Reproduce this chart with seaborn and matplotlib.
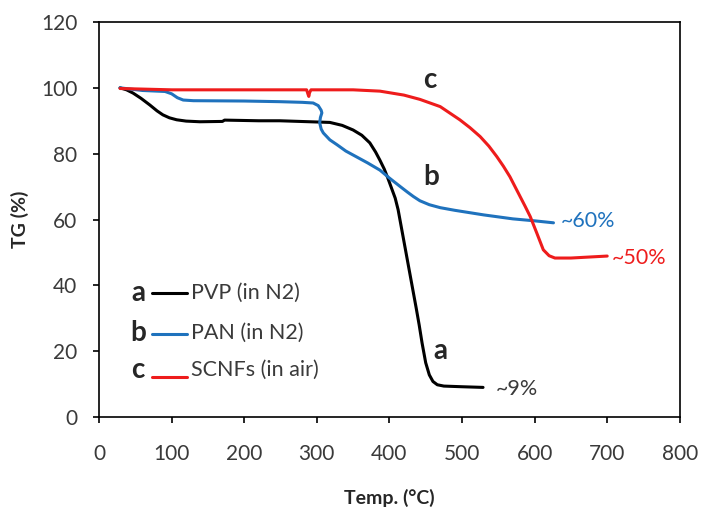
import numpy as np
import pandas as pd
import matplotlib
matplotlib.use("Agg")
import matplotlib.pyplot as plt
import seaborn as sns

# TG curves (temperature in C, TG in %)
pvp_t = [29, 38, 47, 58, 70, 80, 88, 97, 107, 120, 139, 170, 173, 220, 249, 318, 335, 350, 362, 373,
         381, 387, 393, 398, 403, 408, 412, 417, 422, 427, 432, 437, 441, 445, 450, 455, 460, 466, 475, 500, 529]
pvp_tg = [100, 99.4, 98.4, 96.8, 94.8, 93, 91.8, 90.9, 90.3, 89.9, 89.7, 89.8, 90.2, 90, 90, 89.5, 88.6, 87.2, 85.6, 83.3,
          80.5, 78, 75.3, 72.5, 69.5, 66.5, 63, 57, 51, 45, 39, 33, 28, 22.5, 16.5, 12.8, 10.8, 9.8, 9.4, 9.2, 9]

pan_t = [29, 60, 91, 100, 108, 116, 130, 200, 249, 280, 295, 302, 306, 307, 305, 304, 306, 309, 318, 328,
         340, 355, 370, 387, 400, 415, 425, 433, 442, 455, 470, 490, 530, 570, 600, 626]
pan_tg = [100, 99.2, 98.9, 98.2, 97, 96.3, 96.1, 96, 95.8, 95.6, 95.4, 94.6, 93.2, 92.4, 91, 89.4, 87.5, 86.3, 84.2, 82.7,
          80.8, 79, 77.2, 75, 72.6, 70, 68.3, 67, 65.7, 64.5, 63.6, 62.8, 61.4, 60.2, 59.6, 59]

scnf_t = [29, 100, 200, 286, 288, 289, 290, 292, 350, 387, 420, 442, 470, 497, 511, 525, 537, 548, 557, 566,
          573, 580, 587, 594, 603, 612, 620, 628, 650, 675, 700]
scnf_tg = [99.8, 99.4, 99.4, 99.4, 98, 97.4, 98.5, 99.4, 99.4, 99, 97.8, 96.5, 94.3, 90.3, 87.9, 85.2, 82.3, 79.1, 76.2, 73,
           70, 67, 64, 60.9, 55.9, 50.8, 49, 48.3, 48.3, 48.6, 48.9]

series_names = ["PVP (in N2)", "PAN (in N2)", "SCNFs (in air)"]
series_letters = ["a", "b", "c"]
colors = ["#000000", "#1f72bd", "#ee1c1c"]

sns.set_style("ticks")
plt.rcParams['font.family'] = ['Lato', 'DejaVu Sans']

fig = plt.figure(figsize=(7.03, 5.12), dpi=100)
ax = fig.add_axes([0.1408, 0.1855, 0.967 - 0.1408, 0.957 - 0.1855])

for t, tg, c in zip([pvp_t, pan_t, scnf_t], [pvp_tg, pan_tg, scnf_tg], colors):
    df = pd.DataFrame({"t": t, "tg": tg})
    sns.lineplot(data=df, x="t", y="tg", sort=False, estimator=None,
                 color=c, lw=2.2, ax=ax)

ax.set_xlim(0, 800)
ax.set_ylim(0, 120)
ax.set_xticks(range(0, 801, 100))
ax.set_yticks(range(0, 121, 20))
ax.tick_params(labelsize=15, colors="#000000", length=4.5, width=1.2, labelcolor="#3a3a3a")
for s in ax.spines.values():
    s.set_visible(True)
    s.set_color("#000000")
    s.set_linewidth(1.2)
ax.tick_params(axis="x", pad=15)
ax.tick_params(axis="y", pad=11)
ax.set_xlabel("Temp. (°C)", fontsize=14, fontweight="bold", labelpad=18)
ax.set_ylabel("TG (%)", fontsize=14, fontweight="bold", labelpad=9)

# curve letters and residue notes
ax.text(456, 102.5, "c", fontsize=20, fontweight="bold", ha="center", va="center")
ax.text(457, 73, "b", fontsize=20, fontweight="bold", ha="center", va="center")
ax.text(470, 20, "a", fontsize=20, fontweight="bold", ha="center", va="center")
ax.text(636, 59.5, "~60%", fontsize=15.5, color=colors[1], va="center")
ax.text(706, 48.3, "~50%", fontsize=15.5, color=colors[2], va="center")
ax.text(546, 8.6, "~9%", fontsize=15.5, color="#3a3a3a", va="center")

# hand-made key
key_y = [0.314, 0.213, 0.119]
line_y = [0.314, 0.211, 0.101]
for letter, name, c, y, ly in zip(series_letters, series_names, colors, key_y, line_y):
    ax.text(0.067, y, letter, transform=ax.transAxes, fontsize=20,
            fontweight="bold", va="center", ha="center")
    ax.plot([0.091, 0.151], [ly, ly], transform=ax.transAxes,
            color=c, lw=2.2)
    ax.text(0.158, y, name, transform=ax.transAxes, fontsize=15.5,
            color="#3a3a3a", va="center")

fig.savefig("out.png", dpi=100)
